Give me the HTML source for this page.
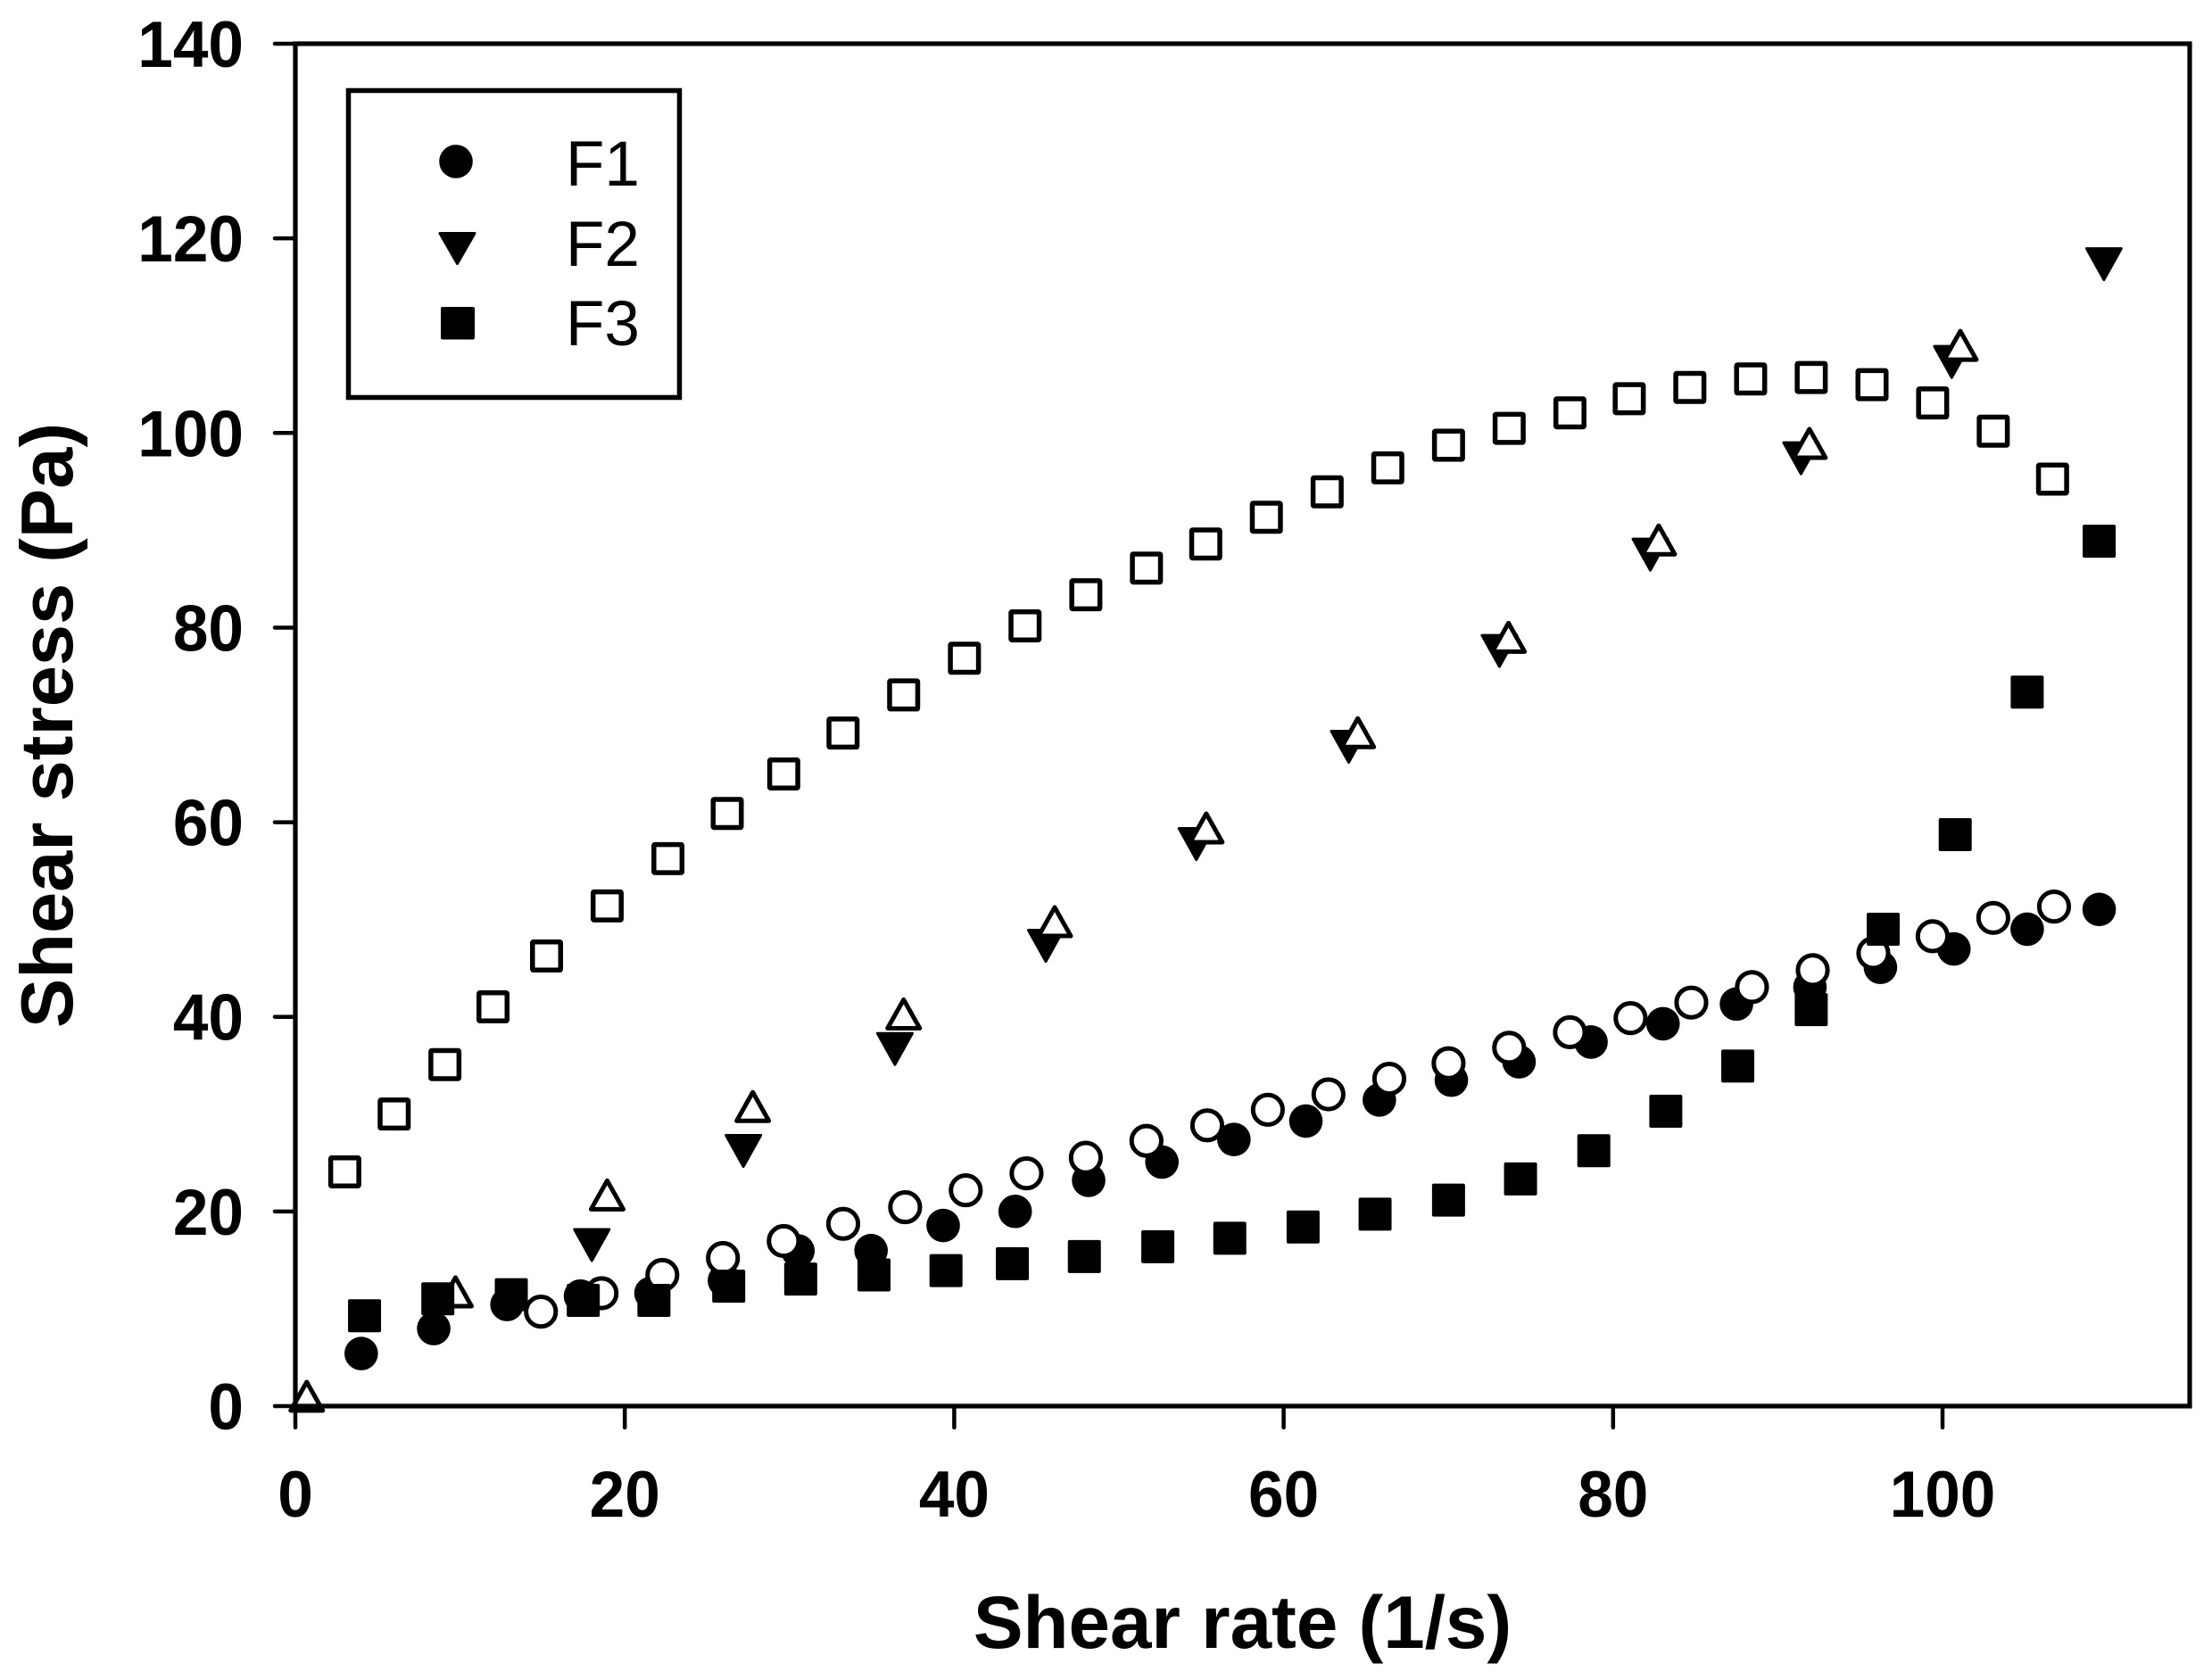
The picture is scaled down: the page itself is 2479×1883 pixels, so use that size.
<!DOCTYPE html>
<html lang="en">
<head>
<meta charset="utf-8">
<title>Shear stress vs shear rate</title>
<style>
html,body{margin:0;padding:0;background:#fff;}
svg{display:block;font-family:"Liberation Sans",Arial,sans-serif;}
</style>
</head>
<body>
<svg id="chart" width="2479" height="1883" viewBox="0 0 2479 1883" xmlns="http://www.w3.org/2000/svg">
  <rect x="0" y="0" width="2479" height="1883" fill="#fff"/>
  <g id="marks"></g>
  <rect x="331" y="49" width="2123" height="1527" fill="none" stroke="#000" stroke-width="5.2"/>
  <g id="ticks"></g>
  <text x="1392.5" y="1847" text-anchor="middle" font-size="83.5" font-weight="700">Shear rate (1/s)</text>
  <text transform="translate(81 813) rotate(-90)" text-anchor="middle" font-size="83" font-weight="700">Shear stress (Pa)</text>
  <g>
    <rect x="390.5" y="101.5" width="371" height="344" fill="#fff" stroke="#000" stroke-width="5.5"/>
    <circle cx="511" cy="181" r="18.8" fill="#000"/>
    <polygon points="493,261.5 532,261.5 512.5,295.5" fill="#000" stroke="#000" stroke-width="3" stroke-linejoin="round"/>
    <rect x="494" y="344" width="38" height="36.5" rx="2" fill="#000"/>
    <text x="634" y="208" font-size="71">F1</text>
    <text x="634" y="298" font-size="71">F2</text>
    <text x="634" y="387" font-size="71">F3</text>
  </g>
</svg>
<script>
const xTickValues = [0, 20, 40, 60, 80, 100];
const yTickValues = [0, 20, 40, 60, 80, 100, 120, 140];

const f1FilledX = [4.00,8.40,12.85,17.31,21.59,26.05,30.51,34.95,39.33,43.70,48.16,52.61,56.98,61.35,65.81,70.18,74.29,78.66,83.03,87.49,91.95,96.23,100.69,105.14,109.51];
const f1FilledY = [5.40,7.97,10.44,11.31,11.60,12.90,15.95,15.98,18.56,20.01,23.20,25.08,27.40,29.29,31.46,33.49,35.38,37.41,39.29,41.32,43.06,45.09,46.98,49.01,51.04];

const f1OpenX = [14.91,18.59,22.28,25.96,29.65,33.26,37.02,40.70,44.39,47.99,51.67,55.36,59.04,62.72,66.41,70.01,73.69,77.38,81.06,84.75,88.43,92.12,95.80,99.40,103.08,106.77];
const f1OpenY = [9.71,11.60,13.48,15.22,16.96,18.73,20.44,22.18,23.92,25.52,27.26,28.85,30.45,32.04,33.64,35.23,36.83,38.42,39.87,41.47,43.06,44.80,46.54,48.28,50.17,51.33];

const f2FilledX = [18.00,27.20,36.40,45.56,54.70,63.95,73.10,82.26,91.41,100.56,109.80];
const f2FilledY = [16.55,26.22,36.70,47.30,57.76,67.75,77.60,87.50,97.40,107.30,117.35];

const f2OpenX = [0.69,9.72,18.93,27.77,36.93,46.10,55.30,64.50,73.65,82.77,91.92,101.08];
const f2OpenY = [1.01,11.74,21.70,30.78,40.30,49.78,59.41,69.20,79.00,89.00,98.93,109.00];

const f3FilledX = [4.20,8.65,13.11,17.48,21.77,26.31,30.68,35.13,39.50,43.53,47.90,52.36,56.73,61.18,65.55,70.01,74.38,78.83,83.20,87.57,92.03,96.40,100.77,105.14,109.51];
const f3FilledY = [9.28,11.02,11.45,10.87,10.87,12.32,13.05,13.48,13.92,14.64,15.37,16.38,17.25,18.41,19.72,21.17,23.34,26.24,30.30,34.94,40.74,49.01,58.72,73.37,88.88];

const f3OpenX = [3.00,6.00,9.08,12.00,15.25,18.93,22.62,26.22,29.65,33.25,36.93,40.62,44.30,47.99,51.67,55.27,58.95,62.64,66.32,70.01,73.69,77.38,80.98,84.66,88.35,92.03,95.72,99.40,103.08,106.68];
const f3OpenY = [24.07,30.01,35.09,41.03,46.25,51.40,56.26,60.90,64.96,69.16,73.08,76.85,80.18,83.37,86.12,88.59,91.34,93.95,96.42,98.74,100.48,102.07,103.52,104.68,105.55,105.70,104.97,103.09,100.19,95.26];

const NS = 'http://www.w3.org/2000/svg';
const sx = v => 331 + v * 18.46;
const sy = v => 1576 - v * 10.907;
const marksG = document.getElementById('marks');
const ticksG = document.getElementById('ticks');

function make(tag, attrs, parent) {
  const el = document.createElementNS(NS, tag);
  for (const k in attrs) el.setAttribute(k, attrs[k]);
  parent.appendChild(el);
  return el;
}

function drawMarker(kind, cx, cy, parent) {
  let el;
  if (kind === 'filled-circle') {
    el = make('circle', {cx: cx, cy: cy, r: 18.8, fill: '#000'}, parent);
  } else if (kind === 'open-circle') {
    el = make('circle', {cx: cx, cy: cy, r: 16.6, fill: '#fff', stroke: '#000', 'stroke-width': 5}, parent);
  } else if (kind === 'filled-triangle') {
    el = make('polygon', {points: (cx-19.5)+','+(cy-17.5)+' '+(cx+19.5)+','+(cy-17.5)+' '+cx+','+(cy+17.5), fill: '#000', stroke: '#000', 'stroke-width': 3, 'stroke-linejoin': 'round'}, parent);
  } else if (kind === 'open-triangle') {
    el = make('polygon', {points: (cx-18)+','+(cy+16)+' '+(cx+18)+','+(cy+16)+' '+cx+','+(cy-16), fill: '#fff', stroke: '#000', 'stroke-width': 5, 'stroke-linejoin': 'round'}, parent);
  } else if (kind === 'filled-square') {
    el = make('rect', {x: cx-18.5, y: cy-18.5, width: 37, height: 37, rx: 2, fill: '#000'}, parent);
  } else {
    el = make('rect', {x: cx-15.75, y: cy-15.75, width: 31.5, height: 31.5, rx: 1, fill: '#fff', stroke: '#000', 'stroke-width': 5.5}, parent);
  }
  
  
}

function drawSeries(xs, ys, kind) {
  xs.forEach((x, i) => drawMarker(kind, sx(x), sy(ys[i]), marksG));
}

drawSeries(f1FilledX, f1FilledY, 'filled-circle');
drawSeries(f1OpenX, f1OpenY, 'open-circle');
drawSeries(f2FilledX, f2FilledY, 'filled-triangle');
drawSeries(f2OpenX, f2OpenY, 'open-triangle');
drawSeries(f3FilledX, f3FilledY, 'filled-square');
drawSeries(f3OpenX, f3OpenY, 'open-square');

xTickValues.forEach(v => {
  const line = make('line', {x1: sx(v), x2: sx(v), y1: 1576, y2: 1600, stroke: '#000', 'stroke-width': 4.5, 'stroke-linecap': 'round'}, ticksG);
  
  
  const label = make('text', {transform: 'translate(' + sx(v) + ' 1700) scale(0.975 1)', 'text-anchor': 'middle', 'font-size': 73, 'font-weight': 700}, ticksG);
  label.textContent = String(v);
  
  
});

yTickValues.forEach(v => {
  const line = make('line', {x1: 308, x2: 331, y1: sy(v), y2: sy(v), stroke: '#000', 'stroke-width': 4.5, 'stroke-linecap': 'round'}, ticksG);
  
  
  const label = make('text', {transform: 'translate(273 ' + (sy(v) + 26) + ') scale(0.975 1)', 'text-anchor': 'end', 'font-size': 73, 'font-weight': 700}, ticksG);
  label.textContent = String(v);
  
  
});
</script>
</body>
</html>
